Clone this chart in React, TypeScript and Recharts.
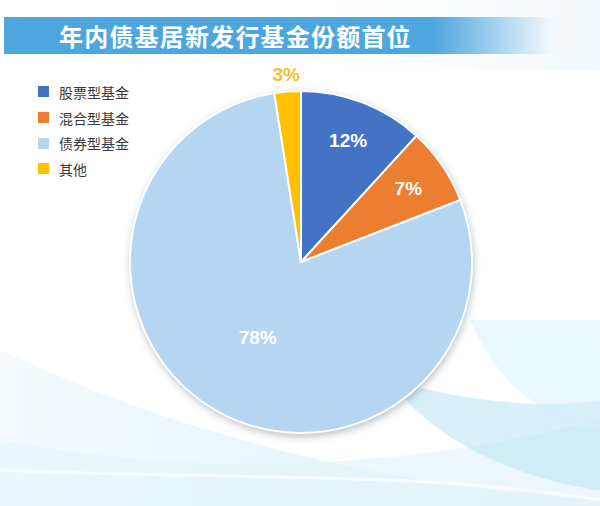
import React from 'react';
import { PieChart, Pie, Cell } from 'recharts';

const categories = ['股票型基金', '混合型基金', '债券型基金', '其他'];
const shares = [11.8, 7.3, 78.4, 2.5];
const colors = ['#4472c4', '#ed7d31', '#b5d5f1', '#ffc000'];
const labelColors = ['#ffffff', '#ffffff', '#ffffff', '#f2c12e'];
const labelRadius = [130, 130, 87, 188];

const data = categories.map((name, i) => ({ name, value: shares[i] }));

const RADIAN = Math.PI / 180;

const renderLabel = (props: any) => {
  const { cx, cy, midAngle, index, value } = props;
  const r = labelRadius[index];
  const x = cx + r * Math.cos(-midAngle * RADIAN);
  const y = cy + r * Math.sin(-midAngle * RADIAN);
  return (
    <text
      x={x}
      y={y}
      fill={labelColors[index]}
      textAnchor="middle"
      dominantBaseline="central"
      style={{ fontFamily: '"Liberation Sans", Arial, sans-serif', fontWeight: 700, fontSize: 19 }}
    >
      {Math.round(value)}%
    </text>
  );
};

export default function App() {
  return (
    <div
      style={{
        position: 'absolute',
        left: 0,
        top: 0,
        width: 600,
        height: 506,
        overflow: 'hidden',
        background: '#ffffff',
      }}
    >
      {/* background swooshes */}
      <svg width={600} height={506} style={{ position: 'absolute', left: 0, top: 0 }}>
        <defs>
          <linearGradient id="bg1" x1="0" y1="0" x2="1" y2="0">
            <stop offset="0" stopColor="#f4fafd" />
            <stop offset="1" stopColor="#d6eff8" />
          </linearGradient>
          <linearGradient id="topfade" x1="0" y1="0" x2="1" y2="0">
            <stop offset="0" stopColor="#ffffff" stopOpacity={0} />
            <stop offset="1" stopColor="#e6f2fa" />
          </linearGradient>
        </defs>
        <rect x={240} y={0} width={360} height={70} fill="url(#topfade)" opacity={0.5} />
        <path d="M0 350 C150 420 330 480 600 500 L600 506 L0 506 Z" fill="url(#bg1)" opacity={0.9} />
        <path d="M0 440 C160 470 360 480 600 420 L600 506 L0 506 Z" fill="#e6f4fa" opacity={0.7} />
        <path d="M390 380 C430 440 520 480 600 490 L600 400 C540 410 460 400 390 380 Z" fill="#a9e0f2" opacity={0.45} />
        <path d="M470 320 C500 390 550 420 600 430 L600 320 Z" fill="#d6f0f9" opacity={0.5} />
        <path d="M0 470 C200 480 420 470 600 500" stroke="#ffffff" strokeWidth={3} fill="none" opacity={0.7} />
      </svg>

      {/* title banner */}
      <div
        style={{
          position: 'absolute',
          left: 4,
          top: 17,
          width: 550,
          height: 37,
          background: 'linear-gradient(90deg, #4ea6de 0%, #4ea6de 78%, #a8d4f0 90%, rgba(255,255,255,0) 100%)',
        }}
      />
      <div
        style={{
          position: 'absolute',
          left: 59,
          top: 17,
          height: 37,
          lineHeight: '37px',
          color: '#ffffff',
          fontFamily: '"Noto Sans CJK SC", sans-serif',
          fontWeight: 700,
          fontSize: 24,
          letterSpacing: 1.2,
          whiteSpace: 'nowrap',
        }}
      >
        年内债基居新发行基金份额首位
      </div>

      {/* legend */}
      <div
        style={{
          position: 'absolute',
          left: 38,
          top: 79,
          fontFamily: '"Noto Sans CJK SC", sans-serif',
          fontSize: 14,
          color: '#3a3a3a',
        }}
      >
        {categories.map((c, i) => (
          <div key={c} style={{ display: 'flex', alignItems: 'center', height: 25.7 }}>
            <span style={{ width: 11, height: 11, background: colors[i], marginRight: 10, display: 'inline-block' }} />
            <span>{c}</span>
          </div>
        ))}
      </div>

      {/* pie shadow */}
      <div
        style={{
          position: 'absolute',
          left: 301 - 171,
          top: 262 - 171,
          width: 342,
          height: 342,
          borderRadius: '50%',
          boxShadow: '1px 3px 8px rgba(60, 80, 100, 0.4)',
        }}
      />

      <div style={{ position: 'absolute', left: 0, top: 0 }}>
        <PieChart width={600} height={506} margin={{ top: 0, right: 0, bottom: 0, left: 0 }}>
          <Pie
            data={data}
            dataKey="value"
            nameKey="name"
            cx={301}
            cy={262}
            outerRadius={171}
            startAngle={90}
            endAngle={-270}
            stroke="#ffffff"
            strokeWidth={2}
            label={renderLabel}
            labelLine={false}
            isAnimationActive={false}
          >
            {data.map((d, i) => (
              <Cell key={d.name} fill={colors[i]} />
            ))}
          </Pie>
        </PieChart>
      </div>
    </div>
  );
}
